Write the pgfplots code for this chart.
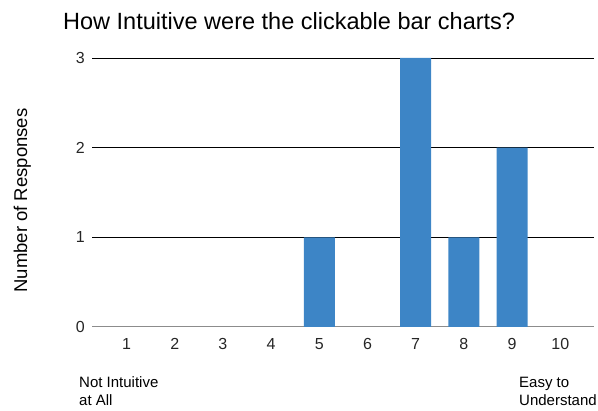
\documentclass[border=0pt]{standalone}
\usepackage{fontspec}
\setmainfont{Liberation Sans}
\usepackage{pgfplots}
\pgfplotsset{compat=1.18}
\definecolor{barblue}{HTML}{3D85C6}
\begin{document}
\begin{tikzpicture}[x=1pt,y=1pt]
\path[use as bounding box] (0,0) rectangle (598,411);
\begin{axis}[
  at={(92pt,84pt)}, anchor=south west,
  scale only axis, width=502pt, height=269pt,
  xmin=0.284, xmax=10.70, ymin=0, ymax=3,
  xtick={1,...,10}, ytick={1,2,3},
  extra y ticks={0},
  extra y tick style={major grid style={color=black!45, line width=1pt}},
  ymajorgrids, major grid style={black, line width=0.9pt},
  axis line style={draw=none},
  major tick length=0pt,
  tick label style={font=\fontsize{16}{19}\selectfont, color=black!85},
  yticklabel style={inner sep=0pt, xshift=-7pt},
  xticklabel style={inner sep=0pt, yshift=-11.5pt},
  /pgf/number format/assume math mode=true,
  ybar, bar width=31pt,
  unbounded coords=discard,
]
% categories with no responses are skipped so no empty bar is drawn
\addplot[fill=barblue, draw=none, y filter/.expression={y==0 ? nan : y}] coordinates {
  (1,0) (2,0) (3,0) (4,0) (5,1) (6,0) (7,3) (8,1) (9,2) (10,0)
};
\end{axis}
% title
\node[anchor=base west, inner sep=0pt, font=\fontsize{23.5}{28}\selectfont] at (63,381)
  {How Intuitive were the clickable bar charts?};
% y axis label
\node[anchor=base, rotate=90, inner sep=0pt, font=\fontsize{18.5}{22}\selectfont] at (27,210.5)
  {Number of Responses};
% scale end notes
\begin{scope}[every node/.style={anchor=base west, inner sep=0pt, font=\fontsize{15}{18}\selectfont}]
\node at (79,23) {Not Intuitive};
\node at (79,5) {at All};
\node at (519,23) {Easy to};
\node at (519,5) {Understand};
\end{scope}
\end{tikzpicture}
\end{document}
